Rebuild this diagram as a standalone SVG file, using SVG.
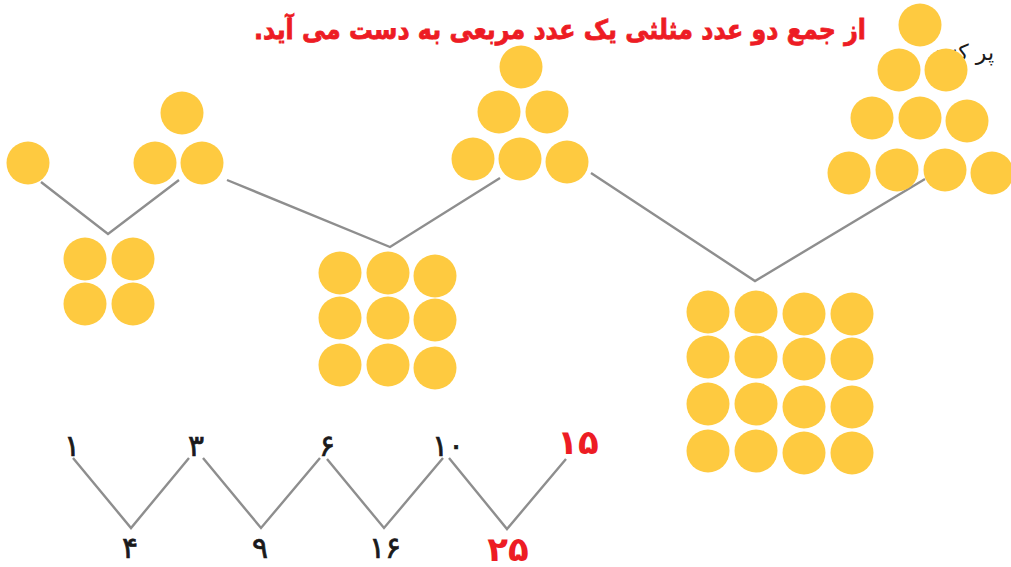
<svg xmlns="http://www.w3.org/2000/svg" width="1011" height="567" viewBox="0 0 1011 567">
<style>
.d{fill:#FECA40}
.c{stroke:#8E8E8E;stroke-width:2.4;fill:none}
.t{font-family:"DejaVu Sans",sans-serif;text-anchor:middle;fill:#1a1a1a;stroke:#1a1a1a;stroke-width:0.7;font-size:30px}
.r{font-family:"DejaVu Sans",sans-serif;text-anchor:middle;fill:#ED1C24;font-size:34px;font-weight:bold}
.h{font-family:"DejaVu Sans",sans-serif;fill:#ED1C24;stroke:#ED1C24;stroke-width:0.8;font-size:27px;font-weight:bold;text-anchor:start}
.p{font-family:"DejaVu Sans",sans-serif;fill:#1a1a1a;font-size:22px;text-anchor:start}
</style>
<rect width="1011" height="567" fill="#ffffff"/>
<g id="heading">
<text class="h" x="866" y="39" direction="rtl" textLength="612" lengthAdjust="spacingAndGlyphs">از جمع دو عدد مثلثی یک عدد مربعی به دست می آید.</text>
<text class="p" x="994" y="60" direction="rtl">پر کنید.</text>
</g>
<g id="connectors">
<polyline class="c" points="41,182 108,234 179,180"/>
<polyline class="c" points="227,180 390,247 500,178"/>
<polyline class="c" points="591,173 755,281 925,179"/>
<polyline class="c" points="73,458 131,528 189,458"/>
<polyline class="c" points="203,458 261,528 320,458"/>
<polyline class="c" points="327,459 384,528 443,458"/>
<polyline class="c" points="449,458 507,529 566,459"/>
</g>
<g id="tri1">
<circle class="d" cx="28" cy="163" r="21.5"/>
</g>
<g id="tri3">
<circle class="d" cx="182" cy="113" r="21.5"/>
<circle class="d" cx="155" cy="163" r="21.5"/>
<circle class="d" cx="202" cy="163" r="21.5"/>
</g>
<g id="tri6">
<circle class="d" cx="521" cy="67" r="21.5"/>
<circle class="d" cx="499" cy="112" r="21.5"/>
<circle class="d" cx="547" cy="112" r="21.5"/>
<circle class="d" cx="473" cy="159" r="21.5"/>
<circle class="d" cx="520" cy="159" r="21.5"/>
<circle class="d" cx="567" cy="162" r="21.5"/>
</g>
<g id="tri10">
<circle class="d" cx="920" cy="25" r="21.5"/>
<circle class="d" cx="899" cy="70" r="21.5"/>
<circle class="d" cx="946" cy="70" r="21.5"/>
<circle class="d" cx="872" cy="118" r="21.5"/>
<circle class="d" cx="920" cy="118" r="21.5"/>
<circle class="d" cx="967" cy="121" r="21.5"/>
<circle class="d" cx="849" cy="173" r="21.5"/>
<circle class="d" cx="897" cy="170" r="21.5"/>
<circle class="d" cx="945" cy="170" r="21.5"/>
<circle class="d" cx="992" cy="173" r="21.5"/>
</g>
<g id="sq4">
<circle class="d" cx="85" cy="259" r="21.5"/>
<circle class="d" cx="133" cy="259" r="21.5"/>
<circle class="d" cx="85" cy="304" r="21.5"/>
<circle class="d" cx="133" cy="304" r="21.5"/>
</g>
<g id="sq9">
<circle class="d" cx="340" cy="273" r="21.5"/>
<circle class="d" cx="388" cy="273" r="21.5"/>
<circle class="d" cx="435" cy="276" r="21.5"/>
<circle class="d" cx="340" cy="318" r="21.5"/>
<circle class="d" cx="388" cy="318" r="21.5"/>
<circle class="d" cx="435" cy="320" r="21.5"/>
<circle class="d" cx="340" cy="365" r="21.5"/>
<circle class="d" cx="388" cy="365" r="21.5"/>
<circle class="d" cx="435" cy="368" r="21.5"/>
</g>
<g id="sq16">
<circle class="d" cx="708" cy="312" r="21.5"/>
<circle class="d" cx="756" cy="312" r="21.5"/>
<circle class="d" cx="804" cy="314" r="21.5"/>
<circle class="d" cx="852" cy="314" r="21.5"/>
<circle class="d" cx="708" cy="357" r="21.5"/>
<circle class="d" cx="756" cy="357" r="21.5"/>
<circle class="d" cx="804" cy="359" r="21.5"/>
<circle class="d" cx="852" cy="359" r="21.5"/>
<circle class="d" cx="708" cy="404" r="21.5"/>
<circle class="d" cx="756" cy="404" r="21.5"/>
<circle class="d" cx="804" cy="407" r="21.5"/>
<circle class="d" cx="852" cy="407" r="21.5"/>
<circle class="d" cx="708" cy="451" r="21.5"/>
<circle class="d" cx="756" cy="451" r="21.5"/>
<circle class="d" cx="804" cy="453" r="21.5"/>
<circle class="d" cx="852" cy="453" r="21.5"/>
</g>
<g id="n1"><text class="t" x="72" y="456">۱</text></g>
<g id="n3"><text class="t" x="196" y="456">۳</text></g>
<g id="n6"><text class="t" x="327" y="456">۶</text></g>
<g id="n10"><text class="t" x="448" y="456">۱۰</text></g>
<g id="n15"><text class="r" x="578" y="454">۱۵</text></g>
<g id="n4"><text class="t" x="130" y="558">۴</text></g>
<g id="n9"><text class="t" x="260" y="558">۹</text></g>
<g id="n16"><text class="t" x="385" y="558">۱۶</text></g>
<g id="n25"><text class="r" x="508" y="561">۲۵</text></g>
</svg>
